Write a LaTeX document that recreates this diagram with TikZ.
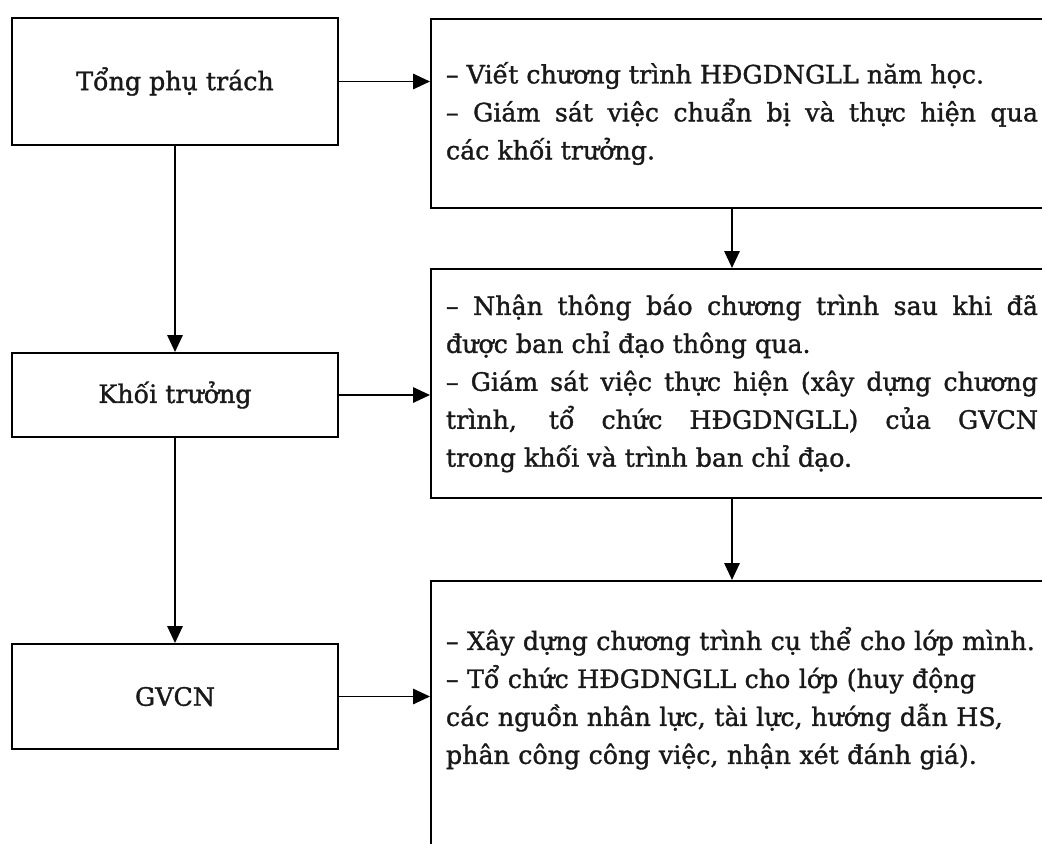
\documentclass[tikz,border=0pt]{standalone}
\usepackage{fontspec}
\setmainfont{DejaVu Serif}[FakeBold=1.3]
\usetikzlibrary{arrows.meta}
\tolerance=10000
\hyphenpenalty=10000
\begin{document}
\begin{tikzpicture}[>={Triangle[length=4.2mm,width=3.8mm]}, line width=1.4pt]
\tikzstyle{every node}=[draw,text=black!90,font=\fontsize{18}{27}\selectfont]
\tikzstyle{rolebox}=[rectangle,minimum width=8.15cm]
\tikzstyle{dutybox}=[rectangle,anchor=north west,text width=14.8cm,inner xsep=0.375cm,align=justify]
\path[use as bounding box,clip] (0,0) rectangle (26.05,-21.075);
\node[rolebox,minimum height=3.175cm](tong) at (4.375,-2.0375) {Tổng phụ trách};
\node[rolebox,minimum height=2.1cm](khoi) at (4.375,-9.875) {Khối trưởng};
\node[rolebox,minimum height=2.625cm](gvcn) at (4.375,-17.4125) {GVCN};
\node[dutybox,minimum height=4.725cm](r1) at (10.75,-0.45) {– Viết chương trình HĐGDNGLL năm học.\par
– Giám sát việc chuẩn bị và thực hiện qua\linebreak các khối trưởng.};
\node[dutybox,minimum height=5.725cm](r2) at (10.75,-6.7) {– Nhận thông báo chương trình sau khi đã\linebreak được ban chỉ đạo thông qua.\par
– Giám sát việc thực hiện (xây dựng chương\linebreak trình, tổ chức HĐGDNGLL) của GVCN\linebreak trong khối và trình ban chỉ đạo.};
\node[dutybox,align=left,text height=0.45cm,text depth=7cm,inner ysep=1.275cm](r3) at (10.75,-14.5) {– Xây dựng chương trình cụ thể cho lớp mình.\\
– Tổ chức HĐGDNGLL cho lớp (huy động\\
các nguồn nhân lực, tài lực, hướng dẫn HS,\\
phân công công việc, nhận xét đánh giá).};
\coordinate (colr) at (18.3,0);
\draw[->] (tong.east) -- (tong.east -| r1.west);
\draw[->] (khoi.east) -- (khoi.east -| r2.west);
\draw[->] (gvcn.east) -- (gvcn.east -| r3.west);
\draw[->] (tong.south) -- (khoi.north);
\draw[->] (khoi.south) -- (gvcn.north);
\draw[->] (r1.south -| colr) -- (r2.north -| colr);
\draw[->] (r2.south -| colr) -- (r3.north -| colr);
\end{tikzpicture}
\end{document}
